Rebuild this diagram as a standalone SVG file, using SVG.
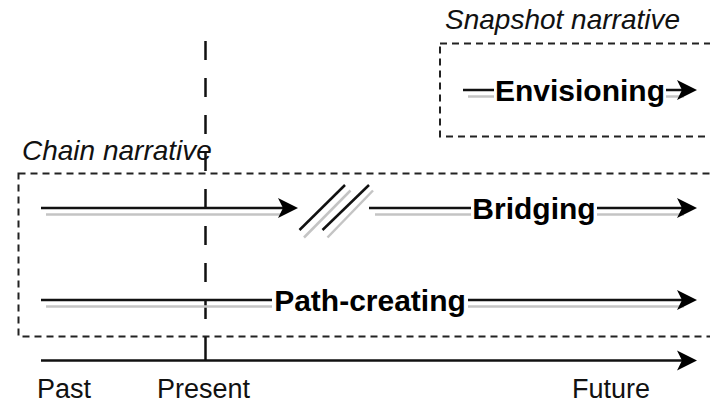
<svg xmlns="http://www.w3.org/2000/svg" xmlns:xlink="http://www.w3.org/1999/xlink" width="710" height="405" viewBox="0 0 710 405">
<style>
.box{fill:none;stroke:#222;stroke-width:2;stroke-dasharray:7 5}
.ln{stroke:#111;stroke-width:2.5;fill:none}
.sh{stroke:#c4c4c4;stroke-width:2.5;fill:none}
.bold{font-family:"Liberation Sans",Arial,sans-serif;font-weight:bold;font-size:30px;fill:#000;text-anchor:middle}
.ital{font-family:"Liberation Sans",Arial,sans-serif;font-style:italic;font-size:28px;fill:#111}
.lab{font-family:"Liberation Sans",Arial,sans-serif;font-size:27px;fill:#111}
.ah{fill:#000}
</style>
<defs>
<path id="ah" d="M-20,-10 L0,0 L-20,10 L-15,0 Z"/>
</defs>
<rect width="710" height="405" fill="#fff"/>

<g id="snapshot-narrative">
<rect class="box" x="440" y="43.5" width="290" height="93"/>
<text class="ital" x="445" y="29">Snapshot narrative</text>
</g>

<g id="chain-narrative">
<rect class="box" x="18.5" y="173.5" width="710" height="163"/>
<text class="ital" x="22" y="160">Chain narrative</text>
</g>

<g id="present-line">
<line x1="205.5" y1="41" x2="205.5" y2="341" stroke="#111" stroke-width="2.5" stroke-dasharray="19 18"/>
<line x1="205.5" y1="341" x2="205.5" y2="360" stroke="#111" stroke-width="2.5"/>
</g>

<g id="connectors">
<g id="envisioning-arrow">
<line class="sh" x1="468" y1="96.5" x2="494" y2="96.5"/>
<line class="sh" x1="666" y1="96.5" x2="684" y2="96.5"/>
<line class="ln" x1="463" y1="90" x2="494" y2="90"/>
<line class="ln" x1="666" y1="90" x2="685" y2="90"/>
<use xlink:href="#ah" href="#ah" class="ah" x="697" y="90"/>
</g>
<g id="bridging-arrow">
<line class="sh" x1="46" y1="214.5" x2="282" y2="214.5"/>
<line class="ln" x1="41" y1="208" x2="286" y2="208"/>
<use xlink:href="#ah" href="#ah" class="ah" x="298" y="208"/>
<line class="sh" x1="304" y1="237.5" x2="350.5" y2="190.5"/>
<line class="sh" x1="327.5" y1="237.5" x2="373" y2="190.5"/>
<line class="ln" x1="299.5" y1="230" x2="345" y2="185"/>
<line class="ln" x1="322.5" y1="230" x2="369" y2="185"/>
<line class="sh" x1="375" y1="214.5" x2="471" y2="214.5"/>
<line class="sh" x1="597" y1="214.5" x2="684" y2="214.5"/>
<line class="ln" x1="369" y1="208" x2="471" y2="208"/>
<line class="ln" x1="597" y1="208" x2="685" y2="208"/>
<use xlink:href="#ah" href="#ah" class="ah" x="697" y="208"/>
</g>
<g id="path-creating-arrow">
<line class="sh" x1="46" y1="306.5" x2="272" y2="306.5"/>
<line class="sh" x1="468" y1="306.5" x2="684" y2="306.5"/>
<line class="ln" x1="41" y1="300" x2="272" y2="300"/>
<line class="ln" x1="468" y1="300" x2="685" y2="300"/>
<use xlink:href="#ah" href="#ah" class="ah" x="697" y="300"/>
</g>
<g id="timeline-arrow">
<line class="ln" x1="41" y1="360.5" x2="685" y2="360.5"/>
<use xlink:href="#ah" href="#ah" class="ah" x="697" y="360.5"/>
</g>
</g>

<g id="envisioning">
<text class="bold" x="580" y="101">Envisioning</text>
</g>
<g id="bridging">
<text class="bold" x="534" y="219">Bridging</text>
</g>
<g id="path-creating">
<text class="bold" x="370" y="311">Path-creating</text>
</g>

<g id="past"><text class="lab" x="37" y="398">Past</text></g>
<g id="present"><text class="lab" x="157" y="398">Present</text></g>
<g id="future"><text class="lab" x="572" y="398">Future</text></g>
</svg>
